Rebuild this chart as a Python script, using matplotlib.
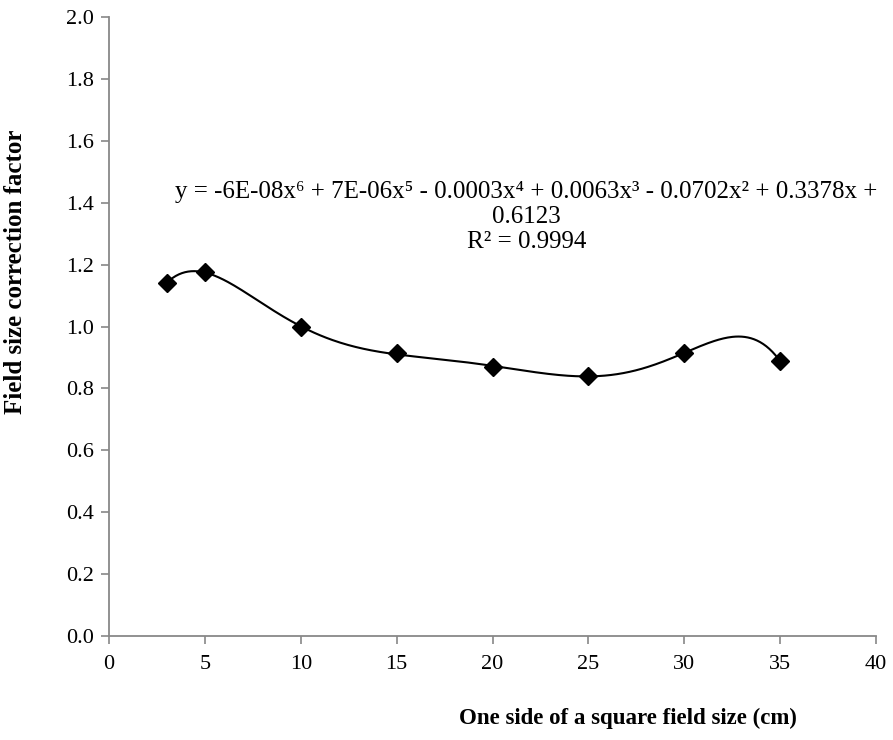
import numpy as np
import matplotlib
matplotlib.use("Agg")
import matplotlib.pyplot as plt

plt.rcParams['font.family'] = ['Liberation Serif', 'DejaVu Serif']

# Measured correction factors
field_size = [3, 5, 10, 15, 20, 25, 30, 35]
correction = [1.140, 1.176, 0.998, 0.914, 0.869, 0.841, 0.914, 0.888]

x_ticks = [0, 5, 10, 15, 20, 25, 30, 35, 40]
y_ticks = [0.0, 0.2, 0.4, 0.6, 0.8, 1.0, 1.2, 1.4, 1.6, 1.8, 2.0]

fig = plt.figure(figsize=(8.93, 7.40), dpi=100)
ax = fig.add_axes([109/893, 1 - 636/740, (876 - 109)/893, (636 - 17)/740])

# 6th-order polynomial trendline
coef = np.polyfit(field_size, correction, 6)
xs = np.linspace(min(field_size), max(field_size), 400)
ax.plot(xs, np.polyval(coef, xs), color='black', lw=1.5, zorder=2)
ax.plot(field_size, correction, linestyle='none', marker='D', markersize=9,
        color='black', zorder=3)

ax.set_xlim(0, 40)
ax.set_ylim(0, 2.0)
ax.set_xticks(x_ticks)
ax.set_yticks(y_ticks)
ax.set_xticklabels([str(v) for v in x_ticks])
ax.set_yticklabels([f"{v:.1f}" for v in y_ticks])

for side in ('top', 'right'):
    ax.spines[side].set_visible(False)
for side in ('left', 'bottom'):
    ax.spines[side].set_color('#888888')
    ax.spines[side].set_linewidth(1.3)
ax.tick_params(direction='out', length=6, width=1.2, color='#888888',
               labelsize=16, pad=5)
ax.tick_params(axis='x', pad=8)

ax.text(0.5445, 0.677,
        "y = -6E-08x⁶ + 7E-06x⁵ - 0.0003x⁴ + 0.0063x³ - 0.0702x² + 0.3378x +\n0.6123\nR² = 0.9994",
        transform=ax.transAxes, ha='center', va='center', fontsize=18,
        linespacing=1.2)

fig.text(16/893, 1 - 272/740, "Field size correction factor", rotation=90,
         ha='center', va='center', fontsize=18, fontweight='bold')
fig.text(628/893, 1 - 718/740, "One side of a square field size (cm)",
         ha='center', va='center', fontsize=16.5, fontweight='bold')

fig.savefig("out.png", dpi=100)
